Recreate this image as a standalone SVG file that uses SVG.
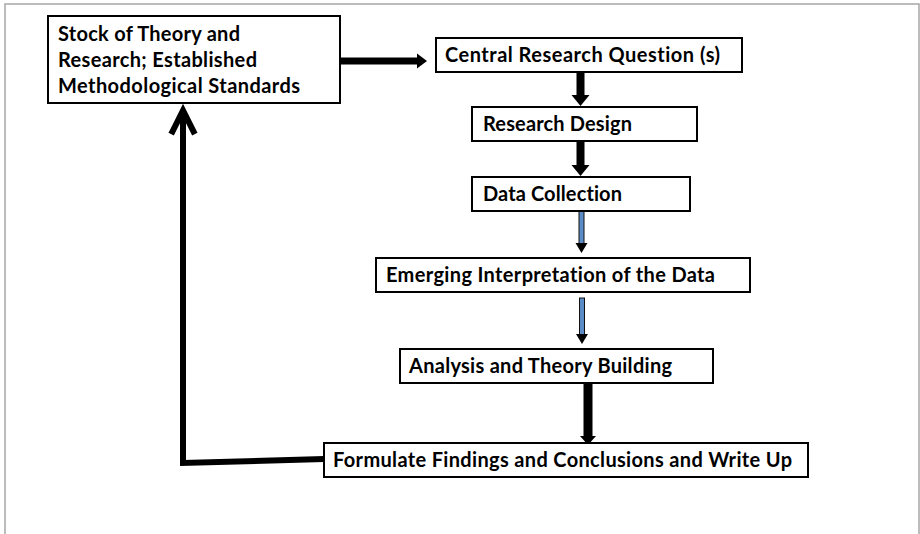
<svg xmlns="http://www.w3.org/2000/svg" width="920" height="534" viewBox="0 0 920 534">
<style>
.box{fill:#fff;stroke:#000;stroke-width:2}
.t{font-family:Lato,"Liberation Sans",sans-serif;font-weight:700;font-size:20px;fill:#000;font-variant-ligatures:none}
.dbl{fill:#5b8cc8;stroke:#111;stroke-width:1}
.hd{fill:#000}
</style>
<rect width="920" height="534" fill="#fff"/>
<path d="M5,534 V4 H919 V534" fill="none" stroke="#a6a6a6" stroke-width="1.5"/>
<g id="connectors">
  <rect x="340" y="57.5" width="78" height="7" fill="#000"/>
  <polygon class="hd" points="417,53.5 427,61 417,68.5"/>
  <rect x="576.5" y="72" width="8" height="24" fill="#000"/>
  <polygon class="hd" points="571.5,95 589.5,95 580.5,106"/>
  <rect x="576.5" y="141" width="8" height="25" fill="#000"/>
  <polygon class="hd" points="571.5,165 589.5,165 580.5,176"/>
  <rect class="dbl" x="579" y="211" width="5" height="33"/>
  <polygon class="hd" points="575.5,243 587.5,243 581.5,253"/>
  <rect class="dbl" x="579.5" y="298" width="5" height="37"/>
  <polygon class="hd" points="576,334 588,334 582,344"/>
  <rect x="583.5" y="383" width="9" height="54" fill="#000"/>
  <polygon class="hd" points="580,436 596,436 588,445"/>
  <polyline points="324,459 183,463 183,111" fill="none" stroke="#000" stroke-width="6"/>
  <polyline points="172.5,131.5 183,110.5 193.5,131.5" fill="none" stroke="#000" stroke-width="6" stroke-linejoin="miter" stroke-linecap="square"/>
</g>
<g id="stock">
  <rect class="box" x="48" y="16" width="292" height="87"/>
  <text class="t" x="58" y="40.5" textLength="182">Stock of Theory and</text>
  <text class="t" x="58" y="66.5" textLength="199">Research; Established</text>
  <text class="t" x="58" y="92.5" textLength="242">Methodological Standards</text>
</g>
<g id="central">
  <rect class="box" x="436" y="38" width="306" height="34"/>
  <text class="t" x="445" y="62" textLength="275">Central Research Question (s)</text>
</g>
<g id="design">
  <rect class="box" x="472" y="107" width="225" height="34"/>
  <text class="t" x="483" y="131" textLength="149">Research Design</text>
</g>
<g id="collection">
  <rect class="box" x="472" y="177" width="218" height="34"/>
  <text class="t" x="483" y="201" textLength="139">Data Collection</text>
</g>
<g id="emerging">
  <rect class="box" x="376" y="258" width="374" height="34"/>
  <text class="t" x="386" y="282" textLength="329">Emerging Interpretation of the Data</text>
</g>
<g id="analysis">
  <rect class="box" x="400" y="349" width="313" height="34"/>
  <text class="t" x="409" y="373" textLength="263">Analysis and Theory Building</text>
</g>
<g id="formulate">
  <rect class="box" x="324" y="443" width="484" height="34"/>
  <text class="t" x="333" y="467" textLength="459">Formulate Findings and Conclusions and Write Up</text>
</g>
</svg>
